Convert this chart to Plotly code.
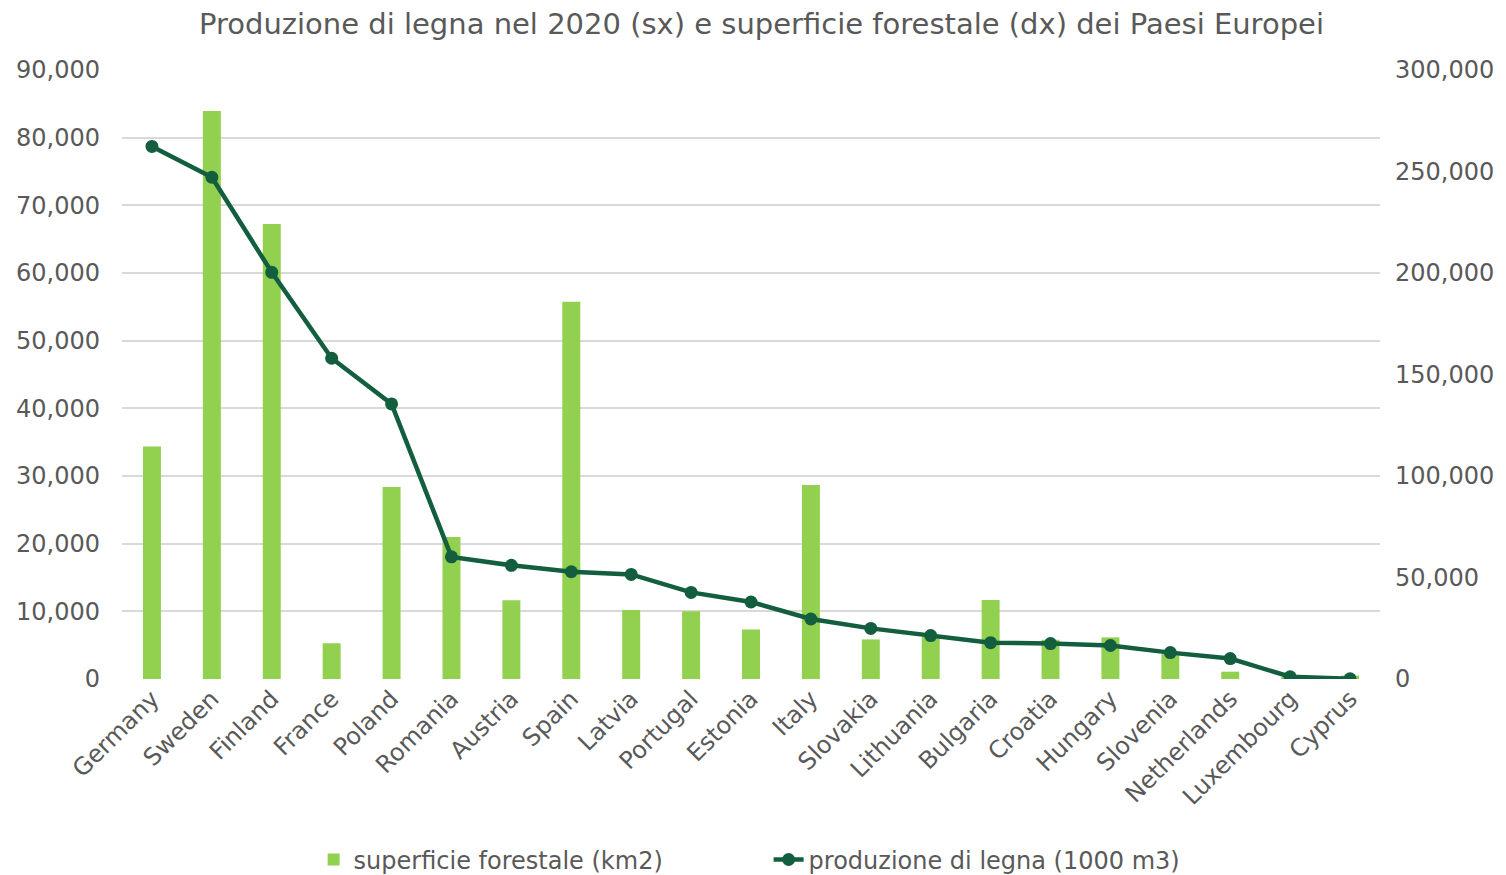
import plotly.graph_objects as go
from plotly.subplots import make_subplots

paesi = [
    "Germany", "Sweden", "Finland", "France", "Poland", "Romania", "Austria",
    "Spain", "Latvia", "Portugal", "Estonia", "Italy", "Slovakia", "Lithuania",
    "Bulgaria", "Croatia", "Hungary", "Slovenia", "Netherlands", "Luxembourg",
    "Cyprus",
]

# produzione di legna 2020 (1000 m3) - asse sinistro
produzione = [
    78700, 74150, 60100, 47400, 40650, 18050, 16800, 15850, 15450, 12800,
    11380, 8870, 7480, 6420, 5370, 5230, 4950, 3900, 3020, 330, 40,
]

# superficie forestale (km2) - asse destro
superficie = [
    114500, 279800, 224100, 17600, 94600, 69900, 38800, 185800, 34000, 33400,
    24400, 95600, 19500, 20800, 38900, 19300, 20500, 12300, 3600, 900, 1700,
]

GRIGIO = "#595959"
VERDE_BAR = "#92D050"
VERDE_LINEA = "#135E3E"
FONT = "DejaVu Sans"

fig = make_subplots(specs=[[{"secondary_y": True}]])

# barre sull'asse principale (disegnato a destra), linea sull'overlay (a sinistra)
# cosi' la linea sta sopra le barre e la griglia sotto
fig.add_trace(
    go.Bar(
        x=paesi,
        y=superficie,
        name="superficie forestale (km2)",
        marker=dict(color=VERDE_BAR, line=dict(width=0)),
        width=0.3,
    ),
    secondary_y=False,
)
fig.add_trace(
    go.Scatter(
        x=paesi,
        y=produzione,
        name="produzione di legna (1000 m3)",
        mode="lines+markers",
        line=dict(color=VERDE_LINEA, width=4.5),
        marker=dict(color=VERDE_LINEA, size=13),
    ),
    secondary_y=True,
)

# la pagina ha 8px di margine del body: figura un po' piu' piccola
fig.update_layout(
    width=1498,
    height=867,
    margin=dict(l=114, r=126, t=62, b=196, autoexpand=False),
    paper_bgcolor="white",
    plot_bgcolor="white",
    font=dict(family=FONT, size=24, color=GRIGIO),
    title=dict(
        text="Produzione di legna nel 2020 (sx) e superficie forestale (dx) dei Paesi Europei",
        x=0.503,
        xanchor="center",
        y=0.982,
        yanchor="middle",
        font=dict(family=FONT, size=29, color=GRIGIO),
    ),
    showlegend=True,
    legend=dict(
        orientation="h",
        x=0.514,
        xanchor="center",
        y=-0.297,
        yanchor="middle",
        font=dict(family=FONT, size=24, color=GRIGIO),
        entrywidth=410,
    ),
)

fig.update_xaxes(
    domain=[0, 1],
    range=[-0.5, len(paesi) - 0.5],
    tickangle=-45,
    showgrid=False,
    showline=False,
    ticks="",
    automargin=False,
    tickfont=dict(size=24, color=GRIGIO),
)

fig.update_yaxes(
    side="right",
    range=[0, 300000],
    dtick=50000,
    tickformat=",",
    showgrid=False,
    zeroline=False,
    showline=False,
    ticks="",
    automargin=False,
    ticklabelstandoff=14,
    secondary_y=False,
)
fig.update_yaxes(
    side="left",
    range=[0, 90000],
    dtick=10000,
    tickformat=",",
    showgrid=True,
    gridcolor="#D9D9D9",
    gridwidth=1.5,
    zeroline=False,
    showline=False,
    ticks="",
    automargin=False,
    ticklabelstandoff=21,
    secondary_y=True,
)

fig.write_html("out.html")
